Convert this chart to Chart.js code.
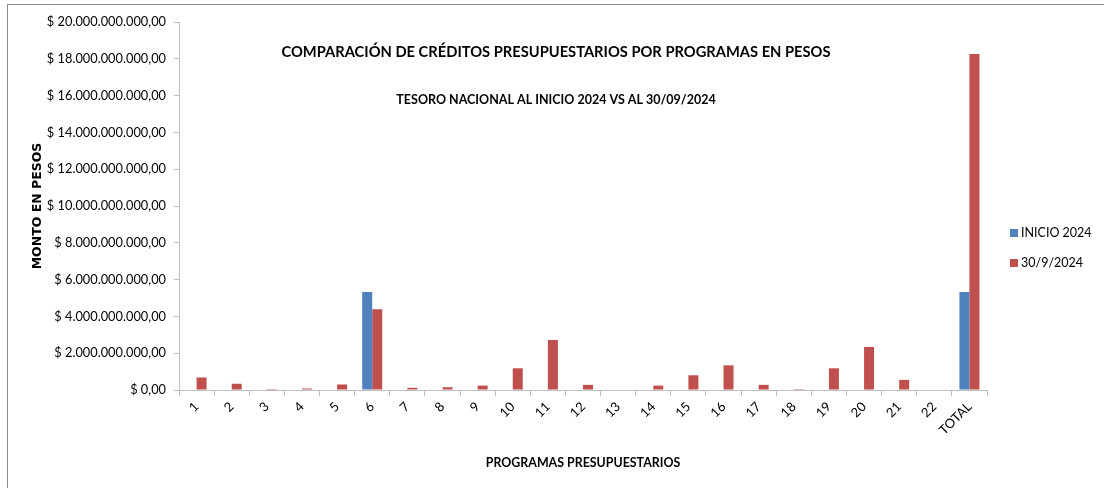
<!DOCTYPE html>
<html>
<head>
<meta charset="utf-8">
<script src="https://cdn.jsdelivr.net/npm/chart.js@4.4.1/dist/chart.umd.min.js"></script>
<style>
  html, body { margin: 0; padding: 0; background: #fff; }
  #wrap { position: relative; width: 1104px; height: 488px; overflow: hidden; }
  #frame { position: absolute; left: 7px; top: 4px; width: 1130px; height: 520px; border: 1px solid #8c8c8c; box-sizing: border-box; }
  canvas { position: absolute; left: 0; top: 0; }
</style>
</head>
<body>
<div id="wrap">
  <div id="frame"></div>
  <canvas id="chart" width="1104" height="488"></canvas>
</div>
<script>
// programas presupuestarios
const categories = ['1','2','3','4','5','6','7','8','9','10','11','12','13','14','15','16','17','18','19','20','21','22','TOTAL'];

// INICIO 2024
const inicio2024 = [0, 0, 0, 0, 0, 5.33e9, 0, 0, 0, 0, 0, 0, 0, 0, 0, 0, 0, 0, 0, 0, 0, 0, 5.33e9];

// 30/9/2024
const sep2024 = [0.68e9, 0.34e9, 0.05e9, 0.08e9, 0.3e9, 4.39e9, 0.12e9, 0.15e9, 0.24e9, 1.18e9, 2.72e9, 0.28e9,
                 0, 0.24e9, 0.8e9, 1.34e9, 0.28e9, 0.05e9, 1.18e9, 2.34e9, 0.55e9, 0, 18.26e9];

const seriesNames = ['INICIO 2024', '30/9/2024'];
const seriesColors = ['#4F81BD', '#C0504D'];

const yMax = 20e9;
const yStep = 2e9;

const titleMain = 'COMPARACIÓN DE CRÉDITOS PRESUPUESTARIOS POR PROGRAMAS EN PESOS';
const titleSub = 'TESORO NACIONAL AL INICIO 2024 VS AL 30/09/2024';

const fam = 'Lato, sans-serif';

function pesos(v) {
    let s = Math.round(v).toString().replace(/\B(?=(\d{3})+(?!\d))/g, '.');
    return '$ ' + s + ',00';
}

// titulos dentro del area y leyenda a la derecha
const decor = {
    id: 'decor',
    afterDraw(chart) {
        const ctx = chart.ctx;
        ctx.save();
        ctx.fillStyle = '#000';
        ctx.textAlign = 'center';
        ctx.textBaseline = 'middle';
        ctx.font = 'bold 14.7px ' + fam;
        ctx.fillText(titleMain, 556, 52);
        ctx.font = 'bold 12.5px ' + fam;
        ctx.fillText(titleSub, 556, 100);

        ctx.textAlign = 'left';
        ctx.font = '12.5px ' + fam;
        chart.data.datasets.forEach(function (ds, i) {
            let y = 233 + i * 30;
            ctx.fillStyle = ds.backgroundColor;
            ctx.fillRect(1010, y - 4, 8, 8);
            ctx.fillStyle = '#000';
            ctx.fillText(ds.label, 1021, y);
        });
        ctx.restore();
    }
};

const ctx = document.getElementById('chart').getContext('2d');
const chart = new Chart(ctx, {
    type: 'bar',
    data: {
        labels: categories,
        datasets: [{
            label: seriesNames[0],
            backgroundColor: seriesColors[0],
            data: inicio2024
        }, {
            label: seriesNames[1],
            backgroundColor: seriesColors[1],
            data: sep2024
        }]
    },
    options: {
        responsive: false,
        animation: false,
        devicePixelRatio: 1,
        categoryPercentage: 0.57,
        barPercentage: 1,
        layout: {
            padding: { top: 22, right: 117, bottom: 0, left: 0 }
        },
        plugins: {
            legend: { display: false },
            tooltip: { enabled: false }
        },
        scales: {
            x: {
                afterFit: function (scale) { scale.height = 98; },
                grid: {
                    drawOnChartArea: false,
                    color: '#bfbfbf',
                    tickLength: 6
                },
                border: { color: '#bfbfbf' },
                ticks: {
                    color: '#000',
                    font: { family: fam, size: 13 },
                    minRotation: 45,
                    maxRotation: 45,
                    padding: 3,
                    autoSkip: false
                },
                title: {
                    display: true,
                    text: 'PROGRAMAS PRESUPUESTARIOS',
                    color: '#000',
                    font: { family: fam, size: 12.4, weight: 'bold' },
                    padding: { top: 0, bottom: 18 }
                }
            },
            y: {
                min: 0,
                max: yMax,
                afterFit: function (scale) { scale.width = 179; },
                grid: {
                    drawOnChartArea: false,
                    color: '#bfbfbf',
                    tickLength: 5
                },
                border: { color: '#bfbfbf' },
                ticks: {
                    stepSize: yStep,
                    color: '#000',
                    padding: 8,
                    font: { family: fam, size: 12.8 },
                    callback: function (v) { return pesos(v); }
                },
                title: {
                    display: true,
                    text: 'MONTO EN PESOS',
                    color: '#000',
                    font: { family: '"DejaVu Sans", sans-serif', size: 12.5, weight: 'bold' },
                    padding: { top: 30, bottom: 0 }
                }
            }
        }
    },
    plugins: [decor]
});
</script>
</body>
</html>
